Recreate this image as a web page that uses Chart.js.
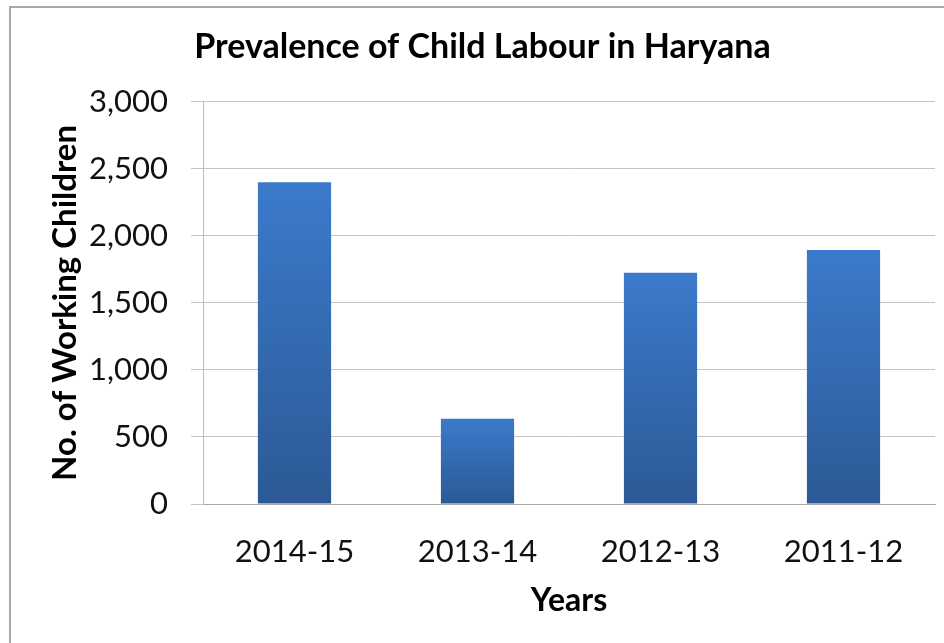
<!DOCTYPE html>
<html lang="en">
<head>
  <meta charset="UTF-8">
  <title>Prevalence of Child Labour in Haryana</title>
  <script src="https://cdn.jsdelivr.net/npm/chart.js"></script>
  <style>
    html, body {
      margin: 0;
      padding: 0;
      background: #fff;
    }
    .wrap {
      position: relative;
      width: 944px;
      height: 643px;
    }
    .frame {
      position: absolute;
      left: 9px;
      top: 6px;
      right: 0;
      bottom: 0;
      border-left: 2px solid #a8a8a8;
      border-top: 2px solid #a8a8a8;
      pointer-events: none;
    }
  </style>
</head>
<body>
  <div class="wrap">
    <canvas id="labourChart" width="944" height="643"></canvas>
    <div class="frame"></div>
  </div>

  <script>
    const years = ['2014-15', '2013-14', '2012-13', '2011-12'];
    const workingChildren = [2400, 635, 1725, 1895];
    const yTicks = [0, 500, 1000, 1500, 2000, 2500, 3000];

    const fontFamily = 'Lato, "Open Sans", sans-serif';

    function barGradient(context) {
      const chart = context.chart;
      if (!chart.chartArea || context.type !== 'data') {
        return '#3474c0';
      }
      const yScale = chart.scales.y;
      const top = yScale.getPixelForValue(context.raw);
      const bottom = yScale.getPixelForValue(0);
      const g = chart.ctx.createLinearGradient(0, top, 0, bottom);
      g.addColorStop(0, '#3b7acb');
      g.addColorStop(1, '#2c5995');
      return g;
    }

    const ctx = document.getElementById('labourChart').getContext('2d');
    const labourChart = new Chart(ctx, {
      type: 'bar',
      data: {
        labels: years,
        datasets: [{
          label: 'No. of Working Children',
          data: workingChildren,
          backgroundColor: barGradient,
          borderWidth: 0,
          categoryPercentage: 1,
          barPercentage: 0.4
        }]
      },
      options: {
        responsive: false,
        animation: false,
        layout: {
          padding: { left: 30, right: 9, top: 0, bottom: 23 }
        },
        plugins: {
          legend: { display: false },
          tooltip: { enabled: false },
          title: {
            display: true,
            text: 'Prevalence of Child Labour in Haryana',
            color: '#000',
            font: { family: fontFamily, size: 34, weight: 'bold' },
            padding: { top: 27, bottom: 34 }
          }
        },
        scales: {
          x: {
            afterFit: (scale) => {
              // keep the plot bottom where the reference has it
              scale.height = 116;
            },
            grid: { display: false, drawTicks: false },
            border: { display: true, color: '#a6a6a6', width: 1 },
            ticks: {
              color: '#111',
              padding: 29,
              maxRotation: 0,
              font: { family: fontFamily, size: 31 }
            },
            title: {
              display: true,
              text: 'Years',
              color: '#000',
              font: { family: fontFamily, size: 32, weight: 'bold' },
              padding: { top: 15, bottom: 0 }
            }
          },
          y: {
            min: 0,
            max: 3000,
            afterBuildTicks: (scale) => {
              scale.ticks = yTicks.map(v => ({ value: v }));
            },
            afterFit: (scale) => {
              scale.width = 173;
            },
            grid: {
              color: '#c4c4c4',
              lineWidth: 1,
              drawTicks: true,
              tickLength: 12
            },
            border: { display: true, color: '#bdbdbd', width: 1 },
            ticks: {
              color: '#111',
              padding: 23,
              font: { family: fontFamily, size: 31 },
              callback: (v) => v.toLocaleString('en-US')
            },
            title: {
              display: true,
              text: 'No. of Working Children',
              color: '#000',
              font: { family: fontFamily, size: 33, weight: 'bold' },
              padding: { top: 16, bottom: 0 }
            }
          }
        }
      }
    });
  </script>
</body>
</html>
